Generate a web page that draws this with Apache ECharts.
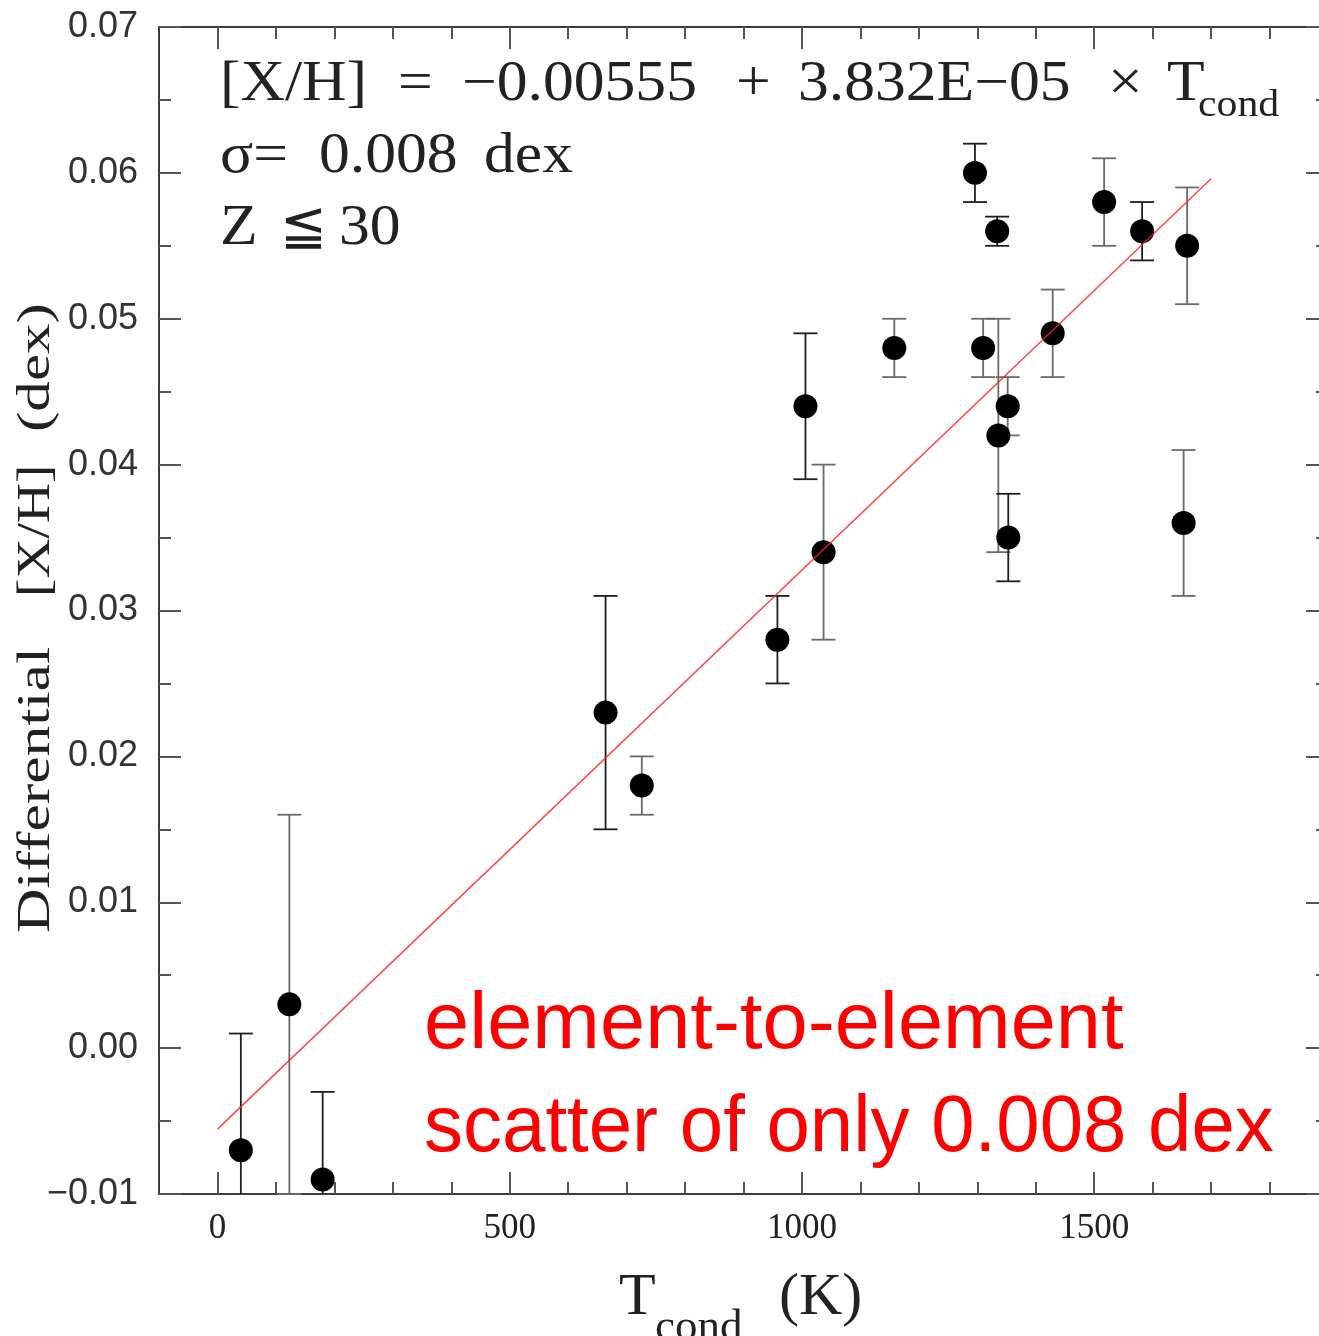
<!DOCTYPE html>
<html><head><meta charset="utf-8">
<script src="https://cdn.jsdelivr.net/npm/echarts@6/dist/echarts.min.js"></script>
<style>html,body{margin:0;padding:0;background:#fff}#c{width:1319px;height:1336px}</style>
</head><body><div id="c"></div>
<script>
// ---- data ----
const elements = ['C','N','O','S','Zn','Na','K','Cu','Mn','Cr','Si','Fe','Mg','Co','Ni','V','Ca','Ti','Sc','Al'];
const tcond    = [40,123,180,664,726,958,1006,1037,1158,1296,1310,1334,1336,1352,1353,1429,1517,1582,1659,1653];
const xh       = [-0.007,0.003,-0.009,0.023,0.018,0.028,0.044,0.034,0.048,0.060,0.048,0.056,0.042,0.044,0.035,0.049,0.058,0.056,0.055,0.036];
const err      = [0.008,0.013,0.006,0.008,0.002,0.003,0.005,0.006,0.002,0.002,0.002,0.001,0.008,0.002,0.003,0.003,0.003,0.002,0.004,0.005];
const darkBars = ['C','O','S','Na','K','Cr','Fe','Ni','Ti'];

const fitT  = [0, 1700];
const fitXH = [-0.00555, 0.0596];

const xMajorTicks = [0, 500, 1000, 1500];
const xTickLabels = ['0', '500', '1000', '1500'];
const xMinorTicks = [100,200,300,400,600,700,800,900,1100,1200,1300,1400,1600,1700,1800];
const yTickLabels = ['\u22120.01','0.00','0.01','0.02','0.03','0.04','0.05','0.06','0.07'];

// ---- chart ----
const chart = echarts.init(document.getElementById('c'), null, {renderer: 'canvas'});
const AX = '#3c3c3c', TK = '#555';
const X_MIN = -100, X_MAX = 1900, Y_MIN = -0.01, Y_MAX = 0.07;

function xAxisDef(pos, major, showLine, showLabel) {
  return {
    type: 'value', min: X_MIN, max: X_MAX, position: pos, gridIndex: 0,
    axisLine: {show: showLine, onZero: false, lineStyle: {color: AX, width: 2}},
    axisTick: {show: true, inside: true, length: major ? 22 : 12,
               customValues: major ? xMajorTicks : xMinorTicks,
               lineStyle: {color: TK, width: 2}},
    axisLabel: showLabel ? {
      show: true, customValues: xMajorTicks, margin: 17,
      fontFamily: '"Liberation Serif", serif', fontSize: 35, color: '#222',
      formatter: v => xTickLabels[xMajorTicks.indexOf(Math.round(v))] || ''
    } : {show: false},
    splitLine: {show: false}
  };
}
function yAxisDef(pos, showLabel) {
  return {
    type: 'value', min: Y_MIN, max: Y_MAX, interval: 0.01, position: pos, gridIndex: 0,
    axisLine: {show: true, onZero: false, lineStyle: {color: AX, width: 2}},
    axisTick: {show: true, inside: true, length: 22, lineStyle: {color: TK, width: 2}},
    minorTick: {show: true, splitNumber: 2, length: 12, lineStyle: {color: TK, width: 2}},
    axisLabel: showLabel ? {
      show: true, margin: 21, fontFamily: '"Liberation Sans", Arial, sans-serif',
      fontSize: 36, color: '#333',
      formatter: v => yTickLabels[Math.round(v * 100) + 1] || ''
    } : {show: false},
    splitLine: {show: false}
  };
}

function makeBars(dark) {
  const d = [];
  elements.forEach((el, i) => {
    if ((darkBars.indexOf(el) >= 0) === dark) d.push([tcond[i], xh[i], err[i]]);
  });
  return {
    type: 'custom', xAxisIndex: 0, yAxisIndex: 0, z: 2, silent: true,
    data: d,
    renderItem: function (params, api) {
      const x = api.value(0), y = api.value(1), e = api.value(2);
      const top = api.coord([x, y + e]);
      const bot = api.coord([x, y - e]);
      const cs = params.coordSys;
      const yT = cs.y, yB = cs.y + cs.height;
      const col = dark ? '#1e1e1e' : '#6a6a6a';
      const st = {stroke: col, lineWidth: 1.8};
      const half = 12;
      const children = [{type: 'line', shape: {x1: top[0], y1: Math.max(top[1], yT), x2: top[0], y2: Math.min(bot[1], yB)}, style: st}];
      if (top[1] >= yT) children.push({type: 'line', shape: {x1: top[0] - half, y1: top[1], x2: top[0] + half, y2: top[1]}, style: st});
      if (bot[1] <= yB) children.push({type: 'line', shape: {x1: bot[0] - half, y1: bot[1], x2: bot[0] + half, y2: bot[1]}, style: st});
      return {type: 'group', children: children};
    }
  };
}

const SERIF = '"Liberation Serif", "DejaVu Serif", serif';
function txt(text, x, y, size, opts) {
  opts = opts || {};
  return {
    type: 'text', x: x, y: y, rotation: opts.rot || 0,
    scaleX: opts.sx || 1, scaleY: 1, silent: true, z: 10,
    style: {text: text, fill: opts.fill || '#222',
            font: (opts.weight || 'normal') + ' ' + size + 'px ' + (opts.family || SERIF),
            textAlign: opts.align || 'left', textVerticalAlign: 'middle'}
  };
}

const EQ = 56, SX = 1.1;
const graphics = [
  // equation block
  txt('[X/H]', 220, 85, EQ, {sx: SX}),
  txt('=', 398, 85, EQ, {sx: SX}),
  txt('\u22120.00555', 462, 85, EQ, {sx: SX}),
  txt('+', 736, 85, EQ, {sx: SX}),
  txt('3.832E\u221205', 798, 85, EQ, {sx: SX}),
  txt('\u00d7', 1108, 85, EQ, {sx: SX}),
  txt('T', 1167, 85, EQ, {sx: SX}),
  txt('cond', 1198, 106, 38, {sx: SX}),
  txt('\u03c3=', 220, 157, EQ, {sx: SX}),
  txt('0.008', 319, 157, EQ, {sx: SX}),
  txt('dex', 484, 157, EQ, {sx: SX}),
  txt('Z', 220, 229, EQ, {sx: SX}),
  txt('\u2266', 280, 229, EQ, {sx: 1}),
  txt('30', 339, 229, EQ, {sx: SX}),
  // y-axis title (rotated)
  txt('Differential', 37, 933, 47, {rot: Math.PI / 2, sx: 1.31}),
  txt('[X/H]', 37, 597, 47, {rot: Math.PI / 2, sx: 1.18}),
  txt('(dex)', 37, 432, 47, {rot: Math.PI / 2, sx: 1.3}),
  // x-axis title
  txt('T', 619, 1298, 60),
  txt('cond', 655, 1328, 45),
  txt('(K)', 779, 1298, 60),
  // red annotation
  txt('element-to-element', 424, 1026, 80, {fill: '#ff0000', family: '"Liberation Sans", Arial, sans-serif', sx: 1.015}),
  txt('scatter of only 0.008 dex', 424, 1129, 80, {fill: '#ff0000', family: '"Liberation Sans", Arial, sans-serif', sx: 0.975})
];

chart.setOption({
  animation: false,
  backgroundColor: '#ffffff',
  grid: {left: 159, top: 27, width: 1169, height: 1167, containLabel: false, outerBoundsMode: 'none'},
  xAxis: [
    xAxisDef('bottom', true, true, true),
    xAxisDef('bottom', false, false, false),
    xAxisDef('top', true, true, false),
    xAxisDef('top', false, false, false)
  ],
  yAxis: [yAxisDef('left', true), yAxisDef('right', false)],
  series: [
    makeBars(false),
    makeBars(true),
    {
      type: 'scatter', xAxisIndex: 0, yAxisIndex: 0, z: 3, silent: true,
      symbol: 'circle', symbolSize: 24, itemStyle: {color: '#000', opacity: 1},
      data: tcond.map((t, i) => [t, xh[i]])
    },
    {
      type: 'line', xAxisIndex: 0, yAxisIndex: 0, z: 4, silent: true,
      showSymbol: false, symbol: 'none',
      lineStyle: {color: 'rgba(255,30,30,0.8)', width: 1.6},
      data: fitT.map((t, i) => [t, fitXH[i]])
    }
  ],
  graphic: graphics
});
</script>
</body></html>
